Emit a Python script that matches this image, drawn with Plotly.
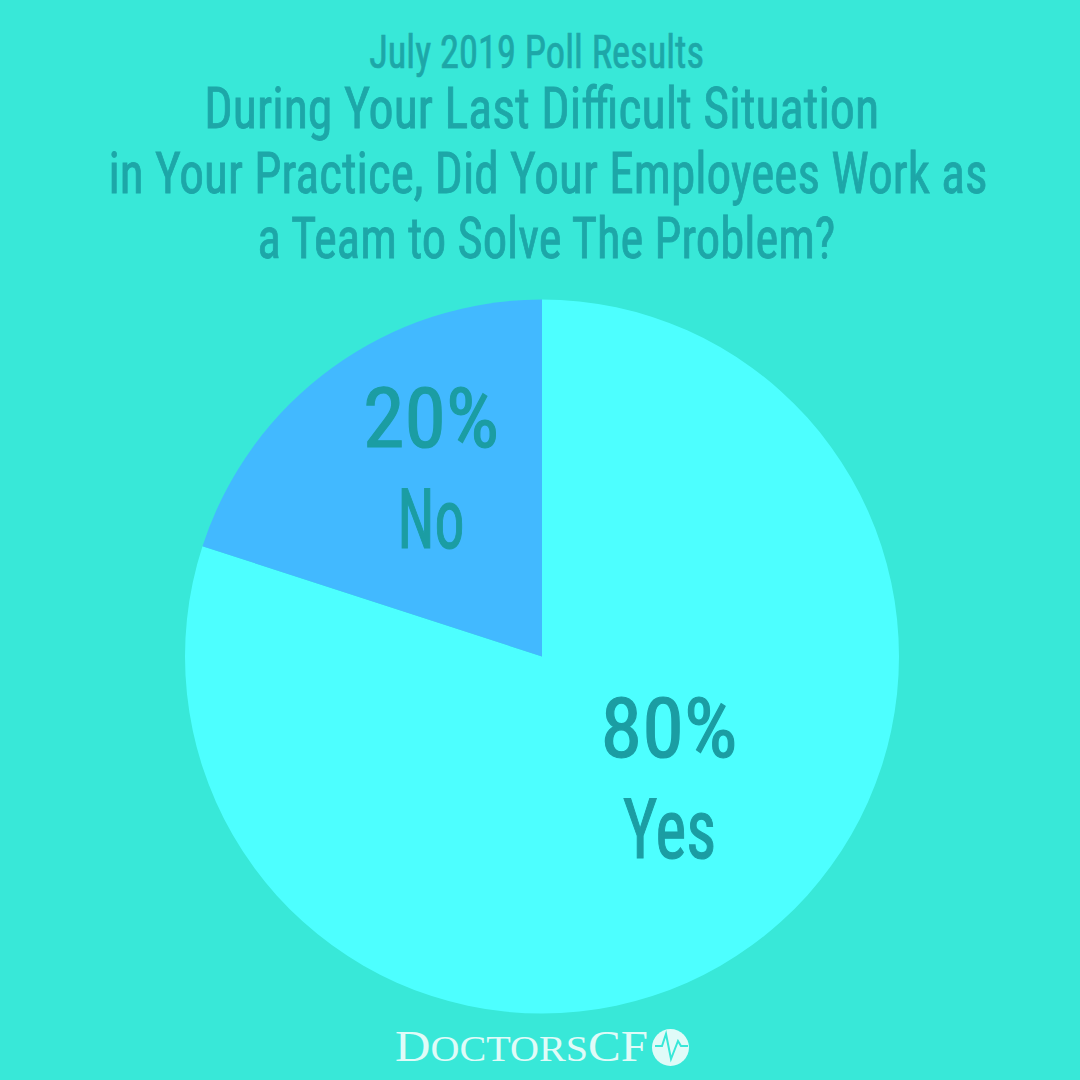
import json
import plotly.graph_objects as go

labels = ["Yes", "No"]
values = [80, 20]
colors = ["#4dffff", "#42b9ff"]
title_lines = ["During Your Last Difficult Situation", "in Your Practice, Did Your Employees Work as", "a Team to Solve The Problem?"]
subtitle = "July 2019 Poll Results"
BG = "#38e8d8"
TXT = "#1da7a8"
BIG = "#1b9da3"
FONT = "Roboto Condensed, Roboto"
LOGO = "#e0fbf8"

fig = go.Figure(go.Pie(labels=labels, values=values, sort=False, direction="clockwise", rotation=0,
    marker=dict(colors=colors, line=dict(width=0)), textinfo="none", hoverinfo="label+percent",
    domain=dict(x=[185/1080, 899/1080], y=[1-1014/1080, 1-299/1080]), showlegend=False))

widths = {}
def t(x, y, s, size, w, color=TXT, font=FONT):
    widths[s] = w
    fig.add_annotation(x=x/1080, y=1-y/1080, xref="paper", yref="paper", text=s, showarrow=False,
        font=dict(size=size, color=color, family=font), xanchor="center", yanchor="middle")

t(536.5, 51, subtitle, 47, 335)
for yy, xx, w, s in zip([108, 173, 238], [541.5, 547.5, 546], [675, 879, 578], title_lines):
    t(xx, yy, s, 58, w)
t(431, 418, "20%", 84, 136, BIG)
t(431, 520, "No", 84, 67, BIG)
t(669, 728, "80%", 84, 137, BIG)
t(669, 829, "Yes", 84, 93, BIG)
fig.add_annotation(x=521/1080, y=1-1046/1080, xref="paper", yref="paper", showarrow=False,
    text="D<span style='font-size:36px'>OCTORS</span>CF", font=dict(size=44, color=LOGO, family="Liberation Serif"),
    xanchor="center", yanchor="middle")
widths["DOCTORSCF"] = 253

# logo badge
fig.add_shape(type="circle", xref="paper", yref="paper", x0=652/1080, x1=689/1080,
    y0=1-1066/1080, y1=1-1029/1080, fillcolor=LOGO, line=dict(width=0), layer="above")
pts = [(655,1046),(662,1046),(666,1034),(671,1059),(678,1041),(681,1046),(688,1046)]
path = "M " + " L ".join(f"{x/1080:.5f},{1-y/1080:.5f}" for x, y in pts)
fig.add_shape(type="path", xref="paper", yref="paper", path=path, line=dict(color=BG, width=2), layer="above")

fig.update_layout(width=1080, height=1080, autosize=False, paper_bgcolor=BG, plot_bgcolor=BG,
    margin=dict(l=0, r=0, t=0, b=0))

post = """
document.documentElement.style.margin='0';document.body.style.margin='0';document.body.style.background='%s';
var W=%s;
document.querySelectorAll('.annotation-text').forEach(function(n){
  var k=n.textContent.trim(); if(!W[k]) return;
  var cx=parseFloat(n.getAttribute('x')), sx=W[k]/n.getComputedTextLength();
  n.setAttribute('transform','translate('+cx+',0) scale('+sx+',1) translate('+(-cx)+',0)');
  if(k!=='DOCTORSCF'){
    var cs=getComputedStyle(n);
    n.style.stroke=cs.fill; n.style.strokeWidth=(parseFloat(cs.fontSize)*0.014)+'px';
  }
});
""" % (BG, json.dumps(widths))
fig.write_html("out.html", config=dict(displayModeBar=False), post_script=post)
